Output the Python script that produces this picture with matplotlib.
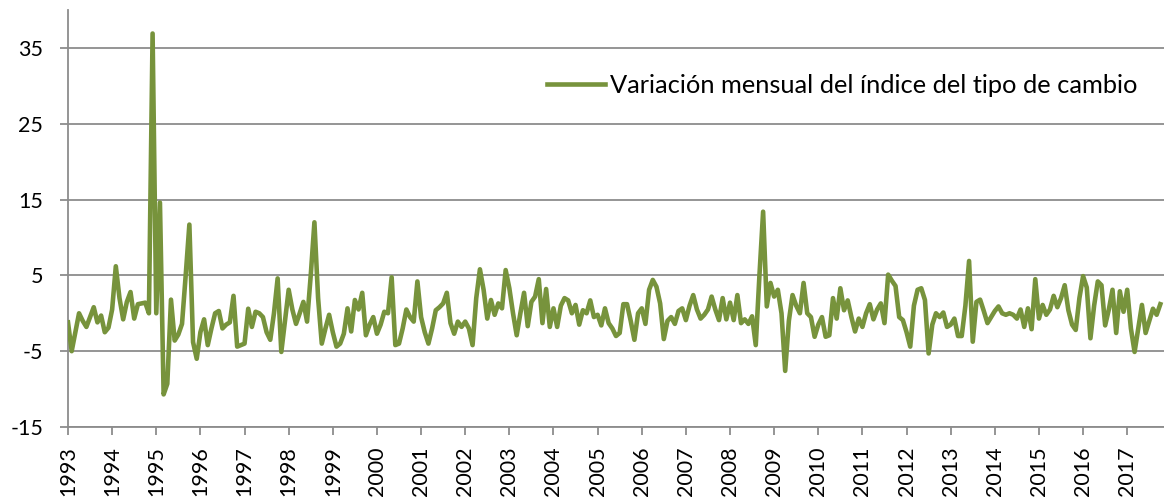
import matplotlib.pyplot as plt
import numpy as np

# variación mensual (%), enero 1993 - octubre 2017
variacion = [
    -1.2, -5.0, -2.5, 0.0, -1.0, -1.8, -0.5, 0.8, -1.2, -0.3, -2.5, -1.9,   # 1993
    0.5, 6.2, 2.0, -0.8, 1.5, 2.8, -0.7, 1.2, 1.3, 1.4, 0.0, 36.9,          # 1994
    0.0, 14.6, -10.7, -9.3, 1.8, -3.6, -2.8, -1.4, 5.0, 11.7, -3.8, -6.0,   # 1995
    -2.5, -0.8, -4.2, -2.0, 0.0, 0.3, -2.0, -1.5, -1.2, 2.3, -4.4, -4.2,    # 1996
    -4.0, 0.6, -1.8, 0.2, 0.0, -0.5, -2.5, -3.5, 0.0, 4.6, -5.1, -1.0,      # 1997
    3.1, 0.5, -1.4, 0.0, 1.5, -1.1, 5.0, 12.0, 2.0, -4.0, -2.0, -0.2,       # 1998
    -2.5, -4.4, -4.0, -2.7, 0.65, -2.4, 1.75, 0.5, 2.7, -2.9, -1.5, -0.5,   # 1999
    -2.7, -1.5, 0.2, 0.0, 4.75, -4.2, -4.0, -2.0, 0.5, -0.5, -1.1, 4.2,     # 2000
    -0.5, -2.5, -4.0, -2.0, 0.4, 0.8, 1.3, 2.7, -1.3, -2.7, -1.1, -1.8,     # 2001
    -1.1, -2.0, -4.2, 2.0, 5.8, 3.1, -0.7, 1.75, -0.2, 1.3, 0.65, 5.7,      # 2002
    3.3, 0.0, -2.9, 0.0, 2.7, -1.7, 1.5, 2.2, 4.5, -1.3, 3.2, -1.8,         # 2003
    0.65, -1.8, 1.0, 2.0, 1.7, 0.0, 1.1, -1.5, 0.4, 0.0, 1.7, -0.5,         # 2004
    -0.2, -1.6, 0.65, -1.3, -2.0, -3.0, -2.6, 1.2, 1.2, -1.0, -3.5, 0.0,    # 2005
    0.65, -1.4, 3.1, 4.4, 3.5, 1.3, -3.4, -1.0, -0.5, -1.4, 0.3, 0.65,      # 2006
    -0.9, 1.0, 2.4, 0.5, -0.7, -0.2, 0.5, 2.2, 0.5, -0.9, 2.0, -0.8,        # 2007
    1.4, -0.9, 2.4, -1.3, -0.8, -1.4, -0.4, -4.2, 5.0, 13.4, 0.9, 4.0,      # 2008
    2.2, 3.1, 0.0, -7.6, -1.0, 2.4, 1.0, 0.0, 4.0, 0.0, -0.5, -3.1,         # 2009
    -1.5, -0.5, -3.1, -2.9, 2.0, -0.7, 3.3, 0.4, 1.7, -0.5, -2.4, -0.7,     # 2010
    -1.8, 0.0, 1.2, -0.8, 0.5, 1.3, -1.3, 5.1, 4.3, 3.6, -0.5, -0.9,        # 2011
    -2.5, -4.4, 1.0, 3.1, 3.3, 1.75, -5.3, -1.5, 0.0, -0.5, 0.1, -1.8,      # 2012
    -1.5, -0.7, -3.0, -3.0, 1.0, 6.9, -3.75, 1.5, 1.8, 0.3, -1.3, -0.5,     # 2013
    0.3, 0.9, 0.0, -0.2, 0.0, -0.2, -0.7, 0.5, -1.8, 0.65, -2.1, 4.5,       # 2014
    -0.7, 1.1, -0.2, 0.5, 2.3, 0.8, 2.0, 3.7, 0.4, -1.5, -2.2, 2.0,         # 2015
    4.9, 3.4, -3.3, 1.0, 4.2, 3.7, -1.6, 0.5, 3.1, -2.6, 2.9, 0.2,          # 2016
    3.1, -2.0, -5.1, -2.0, 1.1, -2.6, -1.0, 0.6, -0.2, 1.2,                 # 2017
]
anios = list(range(1993, 2018))
etiqueta = "Variación mensual del índice del tipo de cambio"

plt.rcParams['font.family'] = ['Lato', 'DejaVu Sans']
plt.rcParams['axes.unicode_minus'] = False

fig = plt.figure(figsize=(11.64, 5.0), dpi=100)
ax = fig.add_axes([68 / 1164, 73 / 500, 1096 / 1164, 417 / 500])

x = np.arange(len(variacion))
ax.plot(x, variacion, color="#77933C", lw=3.3, solid_joinstyle="round", label=etiqueta, zorder=3)

ax.set_xlim(0, 298)
ax.set_ylim(-15, 40)
ax.set_yticks([-15, -5, 5, 15, 25, 35])
ax.set_xticks([12 * i for i in range(len(anios))])
ax.set_xticklabels([str(a) for a in anios], rotation=90)

ax.grid(axis="y", color="#8c8c8c", lw=1.3)
ax.set_axisbelow(True)
for s in ["top", "right"]:
    ax.spines[s].set_visible(False)
for s in ["left", "bottom"]:
    ax.spines[s].set_color("#8c8c8c")
    ax.spines[s].set_linewidth(1.3)
ax.tick_params(axis="both", colors="#8c8c8c", length=6, width=1.3, labelsize=15.5, labelcolor="black")
ax.tick_params(axis="x", pad=8)
ax.tick_params(axis="y", pad=12)

ax.legend(loc="center left", bbox_to_anchor=(0.416, 0.818), frameon=False,
          fontsize=18.3, handlelength=2.3, handletextpad=0.2)

fig.savefig("out.png", dpi=100)
